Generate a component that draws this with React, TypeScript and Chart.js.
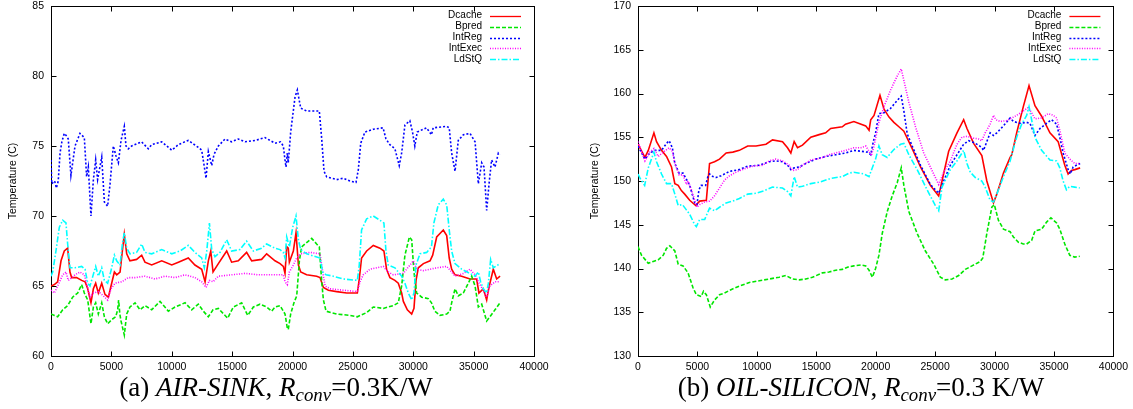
import React, { useEffect, useRef } from "react";
import { Chart, registerables } from "chart.js";

Chart.register(...registerables);
Chart.defaults.font.family = "'Liberation Sans', Arial, Helvetica, sans-serif";

type Pt = [number, number];

// Series shared by both panels
const SERIES_NAMES = ["Dcache", "Bpred", "IntReg", "IntExec", "LdStQ"];
const SERIES_COLORS = ["#ff0000", "#00e600", "#0000ff", "#ff00ff", "#00ffff"];
const SERIES_DASHES: number[][] = [[], [4, 2], [2, 2], [1, 1.5], [6, 2, 1.5, 2]];

// Axis ticks
const X_TICKS = [0, 5000, 10000, 15000, 20000, 25000, 30000, 35000, 40000];
const AIR_Y_TICKS = [60, 65, 70, 75, 80, 85];
const OIL_Y_TICKS = [130, 135, 140, 145, 150, 155, 160, 165, 170];

// (a) AIR-SINK: [time, temperature °C]
const airDcache: Pt[] = [[0,65.0],[280,65.1],[550,65.3],[830,66.8],[1100,67.5],[1380,67.7],[1570,66.0],[1710,65.6],[2120,65.6],[2540,65.4],[2820,65.3],[3040,64.8],[3310,63.8],[3510,64.8],[3700,65.2],[3920,64.5],[4200,65.2],[4470,64.4],[4750,64.2],[4970,65.0],[5250,66.0],[5440,65.8],[5720,66.0],[5910,67.5],[6070,68.7],[6270,67.3],[6540,66.8],[7090,66.9],[7510,67.2],[7780,66.7],[8340,66.5],[9170,66.8],[10000,66.5],[10550,66.7],[11370,67.0],[11920,66.5],[12480,66.2],[12760,65.3],[13030,66.8],[13230,67.5],[13420,66.0],[13860,66.6],[14550,67.5],[14960,66.7],[15510,66.8],[16200,67.4],[16620,66.8],[17440,66.9],[17860,67.3],[18550,66.8],[18970,66.6],[19240,66.4],[19380,65.9],[19520,67.8],[19650,67.7],[19740,66.7],[20070,67.5],[20290,68.8],[20490,66.5],[20680,66.0],[21170,65.8],[22000,65.7],[22280,65.6],[22560,64.9],[22970,64.7],[23660,64.6],[24490,64.5],[25370,64.5],[25530,65.5],[25720,67.0],[26140,67.5],[26690,67.9],[27240,67.7],[27570,67.5],[27790,66.2],[28070,65.6],[28480,65.4],[28760,65.2],[29040,64.5],[29180,63.9],[29510,63.3],[29870,63.0],[30060,63.4],[30230,65.4],[30420,66.3],[30840,66.6],[31390,66.8],[31610,67.2],[31940,68.5],[32490,69.0],[32770,68.6],[32980,67.0],[33180,66.2],[33460,65.8],[34010,65.7],[34700,65.5],[35250,65.5],[35440,64.5],[35800,64.8],[36080,64.0],[36220,64.7],[36350,65.2],[36630,66.2],[36910,65.5],[37190,65.7]];
const airBpred: Pt[] = [[0,63.0],[280,62.9],[550,62.8],[970,63.3],[1380,63.6],[1790,64.2],[2210,64.5],[2540,65.1],[2760,64.5],[3040,64.0],[3310,62.3],[3510,63.5],[3700,63.8],[3920,63.0],[4200,63.8],[4420,62.8],[4690,62.3],[5030,62.6],[5360,62.8],[5520,63.3],[5600,64.0],[5700,63.0],[5800,62.5],[6070,61.5],[6270,63.0],[6540,63.5],[6960,63.8],[7370,63.3],[7780,63.6],[8340,63.3],[9030,63.9],[9720,63.2],[10270,63.5],[11100,63.8],[11650,63.3],[12200,63.7],[12620,63.2],[13030,62.8],[13420,63.3],[13860,63.4],[14630,62.7],[15100,63.5],[15790,63.8],[16290,62.9],[16760,63.5],[17310,63.7],[17860,63.5],[18270,63.2],[18550,63.5],[18970,63.6],[19380,63.0],[19570,62.0],[19650,61.9],[19850,63.0],[20120,63.8],[20350,64.3],[20570,66.8],[20760,67.8],[21170,68.1],[21590,68.4],[22000,68.0],[22220,67.8],[22420,65.3],[22560,64.0],[22780,63.2],[23660,63.0],[24760,62.9],[25370,62.8],[26140,63.1],[26690,63.5],[27520,63.4],[28350,63.6],[28760,63.8],[29040,65.0],[29310,67.2],[29680,68.5],[29870,68.3],[30060,66.0],[30280,64.5],[30700,64.2],[31250,64.1],[31510,63.8],[31790,63.2],[32210,62.9],[32770,63.0],[33040,63.2],[33180,63.8],[33460,64.8],[33730,64.3],[34150,64.5],[34560,65.2],[34840,65.7],[35120,65.0],[35390,63.5],[35670,63.7],[36080,62.5],[36350,62.8],[36770,63.3],[37190,63.8]];
const airIntReg: Pt[] = [[0,74.0],[60,72.3],[300,72.5],[450,72.0],[600,72.5],[750,74.5],[900,75.3],[1100,75.9],[1300,75.7],[1430,75.5],[1650,72.9],[1990,75.0],[2400,75.9],[2760,75.6],[2950,72.8],[3090,73.5],[3310,70.0],[3510,72.6],[3700,74.0],[3860,72.6],[4200,74.2],[4420,71.0],[4690,70.7],[4880,72.2],[5160,75.0],[5380,74.3],[5580,73.8],[5800,75.4],[6070,76.4],[6210,75.0],[6400,74.8],[6680,75.0],[7500,75.3],[8060,74.8],[8340,75.1],[9170,75.3],[10000,74.7],[10550,75.1],[11370,75.4],[12200,74.9],[12480,74.7],[12700,73.5],[12840,72.7],[13030,74.6],[13310,73.6],[13500,74.4],[13860,75.0],[14410,75.5],[14960,75.3],[15510,75.5],[16070,75.3],[16900,75.4],[17720,75.6],[18550,75.2],[19000,75.3],[19240,75.0],[19380,74.0],[19460,73.5],[19570,74.5],[19650,73.8],[19850,76.0],[20210,78.5],[20400,79.0],[20680,77.7],[21170,77.5],[22220,77.5],[22420,75.5],[22610,73.2],[22830,72.8],[23660,72.6],[24210,72.7],[24760,72.5],[25260,72.4],[25450,73.3],[25650,75.2],[26000,76.0],[26700,76.2],[27500,76.3],[27740,75.5],[28060,75.1],[28480,74.8],[28840,73.6],[29040,74.5],[29310,76.5],[29720,76.8],[29940,76.0],[30130,75.0],[30330,76.0],[31100,76.3],[31510,75.8],[31650,76.3],[32760,76.4],[32980,76.3],[33180,74.5],[33460,73.2],[33730,75.4],[34150,75.8],[34700,75.9],[35120,75.3],[35390,72.3],[35670,73.8],[35860,73.5],[36080,70.4],[36300,72.5],[36490,74.0],[36770,73.5],[37050,74.5],[37190,74.4]];
const airIntExec: Pt[] = [[0,64.7],[280,64.5],[550,65.0],[970,65.8],[1240,66.0],[1430,65.4],[1600,65.5],[1990,65.8],[2400,66.0],[2760,65.8],[2950,65.2],[3230,64.2],[3510,64.5],[3920,64.6],[4340,64.3],[4690,64.0],[4970,64.8],[5300,65.2],[5860,65.3],[6400,65.6],[6960,65.6],[7780,65.7],[8610,65.5],[9440,65.7],[10270,65.6],[11100,65.8],[11920,65.6],[12480,65.3],[12840,64.9],[13120,65.4],[13420,65.3],[13860,65.7],[14960,65.8],[16070,65.9],[17170,65.8],[18550,65.8],[19240,65.8],[19380,65.3],[19570,65.1],[19740,66.0],[20070,66.5],[20350,67.0],[20680,67.3],[21450,67.4],[22280,67.3],[22500,66.0],[22700,65.0],[23110,64.8],[24210,64.7],[25370,64.6],[25590,65.3],[25860,65.8],[26420,66.2],[27520,66.4],[27930,66.0],[28350,65.8],[29180,65.9],[29730,66.5],[30010,66.8],[30280,66.2],[30840,66.1],[31940,66.3],[32770,66.4],[33180,66.0],[33460,65.7],[34150,65.9],[34700,66.2],[35120,65.8],[35390,65.3],[35800,64.7],[36080,64.2],[36350,65.0],[36770,65.3],[37190,65.3]];
const airLdStQ: Pt[] = [[0,65.7],[140,66.0],[410,67.5],[690,69.2],[970,69.7],[1240,69.5],[1380,68.0],[1570,66.3],[1990,66.3],[2540,66.4],[2820,66.2],[3040,65.2],[3230,65.0],[3430,65.6],[3700,66.4],[3920,65.7],[4200,66.3],[4420,65.4],[4690,65.2],[4970,66.1],[5250,67.2],[5440,66.8],[5720,66.5],[5910,68.0],[6070,68.8],[6270,67.7],[6540,67.3],[7090,67.4],[7510,68.0],[7780,67.4],[8340,67.3],[9170,67.6],[10000,67.3],[10690,67.5],[11370,67.9],[11920,67.4],[12480,67.0],[12700,66.3],[12900,67.5],[13120,69.5],[13310,67.6],[13580,67.1],[14000,67.4],[14550,68.3],[14960,67.5],[15650,67.6],[16200,68.2],[16760,67.5],[17440,67.7],[17860,68.0],[18550,67.7],[18970,67.6],[19240,67.4],[19380,67.0],[19520,68.5],[19740,67.8],[20020,69.2],[20290,70.0],[20490,68.3],[20680,67.6],[21170,67.3],[22280,67.0],[22500,66.0],[22780,65.8],[23380,65.7],[24210,65.5],[25370,65.4],[25530,66.5],[25720,69.0],[26140,69.8],[26690,70.0],[27240,69.7],[27570,69.5],[27740,67.5],[27930,66.5],[28480,66.3],[28760,66.0],[29040,65.7],[29310,65.2],[29590,64.5],[29870,64.0],[30060,64.5],[30230,66.5],[30560,67.3],[31110,67.4],[31510,67.8],[31710,69.5],[32070,70.8],[32490,71.2],[32770,70.8],[32980,69.0],[33180,67.5],[33460,66.6],[34010,66.2],[34700,65.9],[35120,65.7],[35390,66.0],[35580,65.3],[35800,64.8],[36080,64.5],[36220,65.2],[36410,66.9],[36630,66.3],[37190,66.6]];

// (b) OIL-SILICON: [time, temperature °C]
const oilDcache: Pt[] = [[0,154.2],[585,152.7],[865,153.5],[1340,155.5],[1560,154.5],[1980,153.5],[2400,152.8],[2820,151.6],[3100,149.7],[3380,149.5],[3650,148.9],[3930,148.5],[4350,147.8],[4850,147.2],[5190,147.7],[5750,147.8],[6020,152.0],[6440,152.2],[6860,152.5],[7420,153.2],[7980,153.3],[8530,153.5],[9230,154.0],[9930,154.0],[10770,154.2],[11320,154.7],[12160,154.5],[12580,153.8],[12860,153.2],[13140,154.5],[13420,153.8],[13840,154.1],[14540,155.0],[15240,155.3],[15790,155.5],[16210,156.0],[17190,156.2],[17460,156.5],[18160,156.8],[19160,156.3],[19440,155.8],[19580,157.0],[19860,157.5],[20360,159.8],[20700,158.2],[21120,157.3],[21530,156.7],[21950,156.2],[22370,155.7],[23070,153.7],[23770,151.6],[24600,149.5],[25300,148.3],[25580,150.0],[26140,153.4],[26840,155.5],[27400,157.0],[27680,156.0],[28240,154.3],[28930,152.9],[29350,150.0],[29910,147.5],[30190,148.5],[30750,150.9],[31310,152.7],[31450,153.0],[31860,155.5],[32420,158.5],[32900,160.9],[33400,158.6],[33960,157.4],[34660,155.5],[35350,154.5],[35910,151.8],[36190,150.8],[36470,151.2],[36750,151.3],[37200,151.5]];
const oilBpred: Pt[] = [[0,142.5],[300,141.5],[865,140.6],[1280,140.8],[1700,141.0],[2120,141.5],[2400,142.3],[2680,142.6],[3100,142.0],[3380,140.5],[3790,140.3],[4210,139.5],[4630,137.8],[4910,137.0],[5320,136.8],[5510,137.4],[5750,137.0],[6080,135.6],[6440,136.4],[6860,137.0],[7280,137.2],[7700,137.5],[8530,138.0],[9370,138.4],[10210,138.6],[11040,138.8],[11880,139.0],[12440,139.2],[13000,138.8],[13560,138.7],[14120,138.8],[14680,139.0],[15510,139.5],[16070,139.6],[16630,139.8],[17190,139.9],[17750,140.2],[18160,140.3],[18750,140.4],[19160,140.3],[19440,139.8],[19720,139.0],[19990,140.0],[20270,141.5],[20550,144.0],[20970,146.5],[21390,148.3],[21810,149.8],[22150,151.5],[22370,149.5],[22790,146.5],[23490,144.0],[24180,142.0],[24880,140.5],[25440,139.0],[25860,138.7],[26420,138.8],[26980,139.2],[27540,139.9],[28100,140.3],[28790,140.8],[29010,141.2],[29350,144.0],[29770,147.0],[29980,147.3],[30330,145.5],[30750,144.5],[31310,144.2],[31590,143.6],[32010,143.0],[32420,142.8],[32700,142.8],[33120,143.2],[33400,144.3],[33960,144.5],[34380,145.3],[34740,145.8],[35220,145.2],[35490,144.5],[35910,142.8],[36330,141.5],[36750,141.3],[37170,141.4]];
const oilIntReg: Pt[] = [[0,154.0],[585,152.5],[1000,153.2],[1420,153.5],[1980,153.5],[2400,154.3],[2620,154.6],[2890,153.8],[3100,152.0],[3460,150.9],[3790,150.9],[4070,150.2],[4350,149.5],[4770,147.5],[4960,147.3],[5130,149.0],[5320,149.5],[5690,149.5],[5880,150.5],[6020,150.8],[6300,150.5],[6580,150.4],[7000,150.6],[7700,151.1],[8530,151.3],[9230,151.7],[10210,151.8],[11040,152.2],[11600,152.3],[12160,152.2],[12660,151.7],[12860,151.3],[13140,151.5],[13560,151.6],[14120,152.0],[14950,152.5],[15790,152.8],[16630,153.0],[17460,153.2],[18160,153.5],[18750,153.4],[19300,153.3],[19580,153.0],[19800,154.5],[19990,155.5],[20270,157.7],[20700,157.8],[21250,158.3],[21810,159.2],[22150,159.7],[22370,158.0],[22650,155.4],[23070,154.0],[23770,151.8],[24600,149.6],[25300,148.6],[25720,150.0],[26280,151.8],[26840,153.0],[27400,154.2],[27820,154.6],[28240,154.4],[28650,154.1],[28930,153.8],[29070,153.5],[29350,154.5],[29630,155.5],[29910,155.2],[30190,155.5],[30750,156.3],[31310,157.2],[31590,156.8],[32150,156.6],[32700,156.7],[32980,156.6],[33400,155.2],[33820,156.0],[34380,156.6],[34800,157.0],[35220,156.5],[35490,155.0],[35770,153.2],[36190,151.3],[36380,150.8],[36610,151.6],[37030,151.9],[37200,152.0]];
const oilIntExec: Pt[] = [[0,154.5],[585,152.3],[1000,153.3],[1340,153.7],[1700,152.8],[2120,153.3],[2620,153.8],[2890,153.4],[3100,152.0],[3460,150.7],[3790,150.7],[4070,149.6],[4210,150.0],[4490,149.0],[4770,147.8],[4960,147.0],[5190,147.3],[5610,147.6],[6020,147.7],[6440,148.3],[6860,149.2],[7280,150.1],[7700,150.6],[8250,151.0],[8950,151.4],[9650,151.7],[10490,151.8],[11040,152.3],[11600,152.5],[12160,152.3],[12720,151.8],[13000,151.2],[13420,151.3],[13840,151.8],[14540,152.4],[15380,152.6],[16070,153.0],[16910,153.3],[17460,153.5],[18160,153.8],[18750,153.8],[19160,154.0],[19440,153.4],[19630,152.9],[19860,154.0],[20270,156.7],[20700,158.5],[21250,160.4],[21810,162.0],[22150,162.8],[22370,161.5],[22790,159.0],[23350,156.2],[24040,153.2],[24740,151.2],[25300,149.6],[25720,151.0],[26280,152.3],[26840,154.2],[27260,155.0],[27680,155.1],[28240,154.9],[28650,154.8],[28930,154.6],[29210,155.5],[29630,156.5],[29910,157.5],[30120,157.0],[30470,156.8],[31030,156.9],[31590,157.3],[31860,157.5],[32420,158.0],[32830,158.4],[33120,157.8],[33400,157.1],[33960,157.2],[34520,157.7],[34940,157.5],[35220,157.2],[35490,155.8],[35910,153.2],[36330,152.5],[36750,152.0],[37170,152.0]];
const oilLdStQ: Pt[] = [[0,150.8],[220,150.2],[560,149.5],[865,151.5],[1340,153.3],[1560,152.2],[1980,150.8],[2400,149.7],[2820,149.7],[3100,148.5],[3380,147.2],[3740,147.3],[4070,146.7],[4350,146.2],[4770,145.0],[4910,144.8],[5190,145.6],[5610,145.6],[6020,146.9],[6440,146.6],[6860,147.0],[7420,147.5],[7980,147.7],[8530,148.0],[9230,148.5],[9930,148.6],[10630,148.9],[11320,149.3],[12160,149.2],[12580,148.8],[12860,148.3],[13140,150.5],[13420,149.3],[13840,149.4],[14540,149.7],[15380,149.9],[16210,150.3],[17190,150.5],[17750,150.9],[18160,151.0],[19020,150.8],[19440,150.5],[19630,151.2],[19990,152.5],[20270,154.0],[20550,153.0],[20970,152.7],[21530,153.6],[22090,154.2],[22370,154.3],[22790,153.0],[23490,151.3],[24320,149.0],[25020,147.2],[25300,146.6],[25580,149.3],[26280,151.3],[26840,152.3],[27400,153.5],[27680,152.0],[27960,151.0],[28380,150.4],[28930,150.0],[29210,149.3],[29630,147.8],[29910,147.6],[30190,148.5],[30750,150.5],[31310,152.3],[31860,155.0],[32280,156.5],[32700,157.5],[32900,158.5],[33120,157.0],[33400,155.0],[33960,153.5],[34660,152.4],[35220,152.3],[35490,151.5],[35770,150.0],[36050,149.0],[36330,149.4],[36750,149.3],[37170,149.2]];

const AIR_SERIES = [airDcache, airBpred, airIntReg, airIntExec, airLdStQ];
const OIL_SERIES = [oilDcache, oilBpred, oilIntReg, oilIntExec, oilLdStQ];

const CANVAS_H = 380;
const TICK_LEN = 5;

// Border box with inward tick marks on all four sides
const framePlugin = {
  id: "frame",
  beforeDatasetsDraw(chart: any) {
    const { ctx, chartArea, scales } = chart;
    const l = Math.round(chartArea.left) + 0.5;
    const r = Math.round(chartArea.right) + 0.5;
    const t = Math.round(chartArea.top) + 0.5;
    const b = Math.round(chartArea.bottom) + 0.5;
    ctx.save();
    ctx.strokeStyle = "#000";
    ctx.lineWidth = 1;
    ctx.setLineDash([]);
    ctx.beginPath();
    for (const tk of scales.x.ticks) {
      const px = Math.round(scales.x.getPixelForValue(tk.value)) + 0.5;
      if (px <= l + 1 || px >= r - 1) continue;
      ctx.moveTo(px, b);
      ctx.lineTo(px, b - TICK_LEN);
      ctx.moveTo(px, t);
      ctx.lineTo(px, t + TICK_LEN);
    }
    for (const tk of scales.y.ticks) {
      const py = Math.round(scales.y.getPixelForValue(tk.value)) + 0.5;
      if (py <= t + 1 || py >= b - 1) continue;
      ctx.moveTo(l, py);
      ctx.lineTo(l + TICK_LEN, py);
      ctx.moveTo(r, py);
      ctx.lineTo(r - TICK_LEN, py);
    }
    ctx.stroke();
    ctx.strokeRect(l, t, r - l, b - t);
    ctx.restore();
  },
};

// Key in the upper right corner: right-aligned name followed by a line sample
const keyPlugin = {
  id: "key",
  afterDatasetsDraw(chart: any) {
    const { ctx, chartArea } = chart;
    const right = chartArea.right;
    ctx.save();
    ctx.font = "10px 'Liberation Sans', Arial, sans-serif";
    ctx.textAlign = "right";
    ctx.textBaseline = "middle";
    SERIES_NAMES.forEach((name, i) => {
      const y = chartArea.top + 9.7 + i * 10.9;
      ctx.fillStyle = "#000";
      ctx.fillText(name, right - 52, y);
      ctx.strokeStyle = SERIES_COLORS[i];
      ctx.lineWidth = 1.3;
      ctx.setLineDash(SERIES_DASHES[i]);
      ctx.beginPath();
      ctx.moveTo(right - 44, Math.round(y) + 0.5);
      ctx.lineTo(right - 13, Math.round(y) + 0.5);
      ctx.stroke();
    });
    ctx.restore();
  },
};

type PanelProps = {
  series: Pt[][];
  yTicks: number[];
  left: number;
  width: number;
  padLeft: number;
  padRight: number;
  yAxisWidth: number;
};

function Panel({ series, yTicks, left, width, padLeft, padRight, yAxisWidth }: PanelProps) {
  const ref = useRef<HTMLCanvasElement>(null);
  useEffect(() => {
    const tickFont = { size: 10.5 };
    const chart = new Chart(ref.current as HTMLCanvasElement, {
      type: "line",
      data: {
        datasets: series.map((pts, i) => ({
          label: SERIES_NAMES[i],
          data: pts.map(([x, y]) => ({ x, y })),
          borderColor: SERIES_COLORS[i],
          borderWidth: 1.6,
          borderDash: SERIES_DASHES[i],
          pointRadius: 0,
          tension: 0,
          fill: false,
          order: series.length - i,
        })),
      },
      options: {
        animation: false,
        responsive: false,
        devicePixelRatio: 1,
        layout: { padding: { left: padLeft, right: padRight, top: 6, bottom: 0 } },
        plugins: { legend: { display: false }, tooltip: { enabled: false } },
        scales: {
          x: {
            type: "linear",
            min: X_TICKS[0],
            max: X_TICKS[X_TICKS.length - 1],
            afterBuildTicks: (s: any) => {
              s.ticks = X_TICKS.map((v) => ({ value: v }));
            },
            afterFit: (s: any) => {
              s.height = 24;
            },
            grid: { display: false, drawTicks: false },
            border: { display: false },
            ticks: {
              color: "#000",
              font: tickFont,
              padding: 5,
              maxRotation: 0,
              autoSkip: false,
              callback: (v: any) => String(v),
            },
          },
          y: {
            type: "linear",
            min: yTicks[0],
            max: yTicks[yTicks.length - 1],
            afterBuildTicks: (s: any) => {
              s.ticks = yTicks.map((v) => ({ value: v }));
            },
            afterFit: (s: any) => {
              s.width = yAxisWidth;
              s.paddingTop = 0;
              s.paddingBottom = 0;
            },
            grid: { display: false, drawTicks: false },
            border: { display: false },
            ticks: {
              color: "#000",
              font: tickFont,
              padding: 7,
              autoSkip: false,
              callback: (v: any) => String(v),
            },
            title: {
              display: true,
              text: "Temperature (C)",
              color: "#000",
              font: { size: 10.5 },
              padding: { top: 7, bottom: 0 },
            },
          },
        },
      },
      plugins: [framePlugin, keyPlugin],
    } as any);
    return () => chart.destroy();
  }, []);
  return (
    <canvas
      ref={ref}
      width={width}
      height={CANVAS_H}
      style={{ position: "absolute", left, top: 0, width, height: CANVAS_H }}
    />
  );
}

const captionStyle: React.CSSProperties = {
  position: "absolute",
  top: 374,
  fontFamily: "'Liberation Serif', 'Times New Roman', serif",
  fontSize: 27,
  lineHeight: "27px",
  whiteSpace: "nowrap",
  textAlign: "center",
  color: "#000",
};

const subStyle: React.CSSProperties = {
  fontSize: "0.7em",
  fontStyle: "italic",
  position: "relative",
  top: "0.25em",
};

export default function App() {
  return (
    <div
      style={{
        position: "absolute",
        left: 0,
        top: 0,
        width: 1133,
        height: 409,
        background: "#fff",
        overflow: "hidden",
      }}
    >
      <Panel series={AIR_SERIES} yTicks={AIR_Y_TICKS} left={0} width={566} padLeft={0} padRight={32} yAxisWidth={51} />
      <Panel series={OIL_SERIES} yTicks={OIL_Y_TICKS} left={566} width={567} padLeft={16} padRight={17} yAxisWidth={56} />
      <div style={{ ...captionStyle, left: 76, width: 400 }}>
        (a) <i>AIR-SINK</i>, <i>R</i>
        <span style={subStyle}>conv</span>=0.3K/W
      </div>
      <div style={{ ...captionStyle, left: 661, width: 400 }}>
        (b) <i>OIL-SILICON</i>, <i>R</i>
        <span style={subStyle}>conv</span>=0.3 K/W
      </div>
    </div>
  );
}
